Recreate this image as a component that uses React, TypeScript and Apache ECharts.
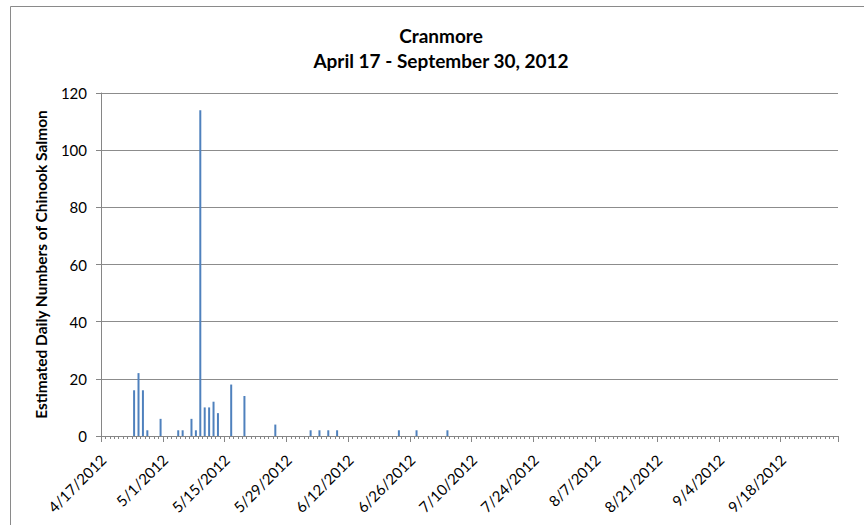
import React, { useEffect, useRef } from "react";
import * as echarts from "echarts";

// Daily categories, 4/17/2012 .. 9/30/2012 (167 days)
const startMonth = 4;
const startDay = 17;
const monthLengths: Record<number, number> = { 4: 30, 5: 31, 6: 30, 7: 31, 8: 31, 9: 30 };
const dayCount = 167;

function buildCategories(): string[] {
  const out: string[] = [];
  let m = startMonth;
  let d = startDay;
  for (let i = 0; i < dayCount; i++) {
    out.push(`${m}/${d}/2012`);
    d++;
    if (d > monthLengths[m]) {
      d = 1;
      m++;
    }
  }
  return out;
}
const categories = buildCategories();

// Estimated daily numbers, rows of 14 days starting 4/17
const dailyCounts: number[] = [
  0, 0, 0, 0, 0, 0, 0, 16, 22, 16, 2, 0, 0, 6,
  0, 0, 0, 2, 2, 0, 6, 2, 114, 10, 10, 12, 8, 0,
  0, 18, 0, 0, 14, 0, 0, 0, 0, 0, 0, 4, 0, 0,
  0, 0, 0, 0, 0, 2, 0, 2, 0, 2, 0, 2, 0, 0,
  0, 0, 0, 0, 0, 0, 0, 0, 0, 0, 0, 2, 0, 0,
  0, 2, 0, 0, 0, 0, 0, 0, 2, 0, 0, 0, 0, 0,
  0, 0, 0, 0, 0, 0, 0, 0, 0, 0, 0, 0, 0, 0,
  0, 0, 0, 0, 0, 0, 0, 0, 0, 0, 0, 0, 0, 0,
  0, 0, 0, 0, 0, 0, 0, 0, 0, 0, 0, 0, 0, 0,
  0, 0, 0, 0, 0, 0, 0, 0, 0, 0, 0, 0, 0, 0,
  0, 0, 0, 0, 0, 0, 0, 0, 0, 0, 0, 0, 0, 0,
  0, 0, 0, 0, 0, 0, 0, 0, 0, 0, 0, 0, 0,
];

const titleLine1 = "Cranmore";
const titleLine2 = "April 17 - September 30, 2012";
const yAxisTitle = "Estimated Daily Numbers of Chinook Salmon";

const FONT = "Lato, 'Open Sans', sans-serif";
const AXIS_GRAY = "#868686";

export default function App() {
  const ref = useRef<HTMLDivElement>(null);
  useEffect(() => {
    if (!ref.current) return;
    const chart = echarts.init(ref.current, null, { renderer: "svg" });
    chart.setOption({
      animation: false,
      backgroundColor: "#ffffff",
      textStyle: { fontFamily: FONT },
      graphic: [
        {
          type: "rect",
          shape: { x: 10.5, y: 6.5, width: 900, height: 600 },
          style: { fill: "none", stroke: "#8a8a8a", lineWidth: 1 },
          silent: true,
        },
        {
          type: "text",
          x: 441,
          y: 35,
          style: {
            text: titleLine1,
            font: `bold 19px ${FONT}`,
            fill: "#000",
            align: "center",
            verticalAlign: "middle",
          },
        },
        {
          type: "text",
          x: 441,
          y: 60,
          style: {
            text: titleLine2,
            font: `bold 19px ${FONT}`,
            fill: "#000",
            align: "center",
            verticalAlign: "middle",
          },
        },
      ],
      grid: { left: 101, right: 26, top: 93, bottom: 89, containLabel: false },
      xAxis: [
        {
          type: "category",
          data: categories,
          boundaryGap: true,
          axisLine: { show: true, lineStyle: { color: AXIS_GRAY, width: 1 } },
          axisTick: { show: true, interval: 0, length: 3, lineStyle: { color: AXIS_GRAY } },
          axisLabel: {
            interval: 13,
            rotate: 45,
            fontSize: 15,
            color: "#000",
            fontFamily: FONT,
            margin: 21,
          },
          splitLine: { show: false },
        },
        {
          type: "category",
          data: categories,
          position: "bottom",
          boundaryGap: true,
          axisLine: { show: false },
          axisTick: { show: true, interval: 13, length: 6, lineStyle: { color: AXIS_GRAY } },
          axisLabel: { show: false },
          splitLine: { show: false },
        },
      ],
      yAxis: {
        type: "value",
        min: 0,
        max: 120,
        interval: 20,
        name: yAxisTitle,
        nameLocation: "middle",
        nameGap: 52,
        nameTextStyle: { fontSize: 15.5, fontWeight: "bold", color: "#000", fontFamily: FONT },
        axisLine: { show: true, lineStyle: { color: AXIS_GRAY, width: 1 } },
        axisTick: { show: true, length: 5, lineStyle: { color: AXIS_GRAY } },
        axisLabel: { fontSize: 15, color: "#000", margin: 14, fontFamily: FONT },
        splitLine: { show: true, lineStyle: { color: "#8c8c8c", width: 1 } },
      },
      series: [
        {
          type: "bar",
          xAxisIndex: 0,
          data: dailyCounts,
          barWidth: 2,
          itemStyle: { color: "#4F81BD" },
        },
      ],
    });
    return () => chart.dispose();
  }, []);
  return (
    <div
      ref={ref}
      style={{ position: "fixed", left: 0, top: 0, width: 864, height: 525 }}
    />
  );
}
